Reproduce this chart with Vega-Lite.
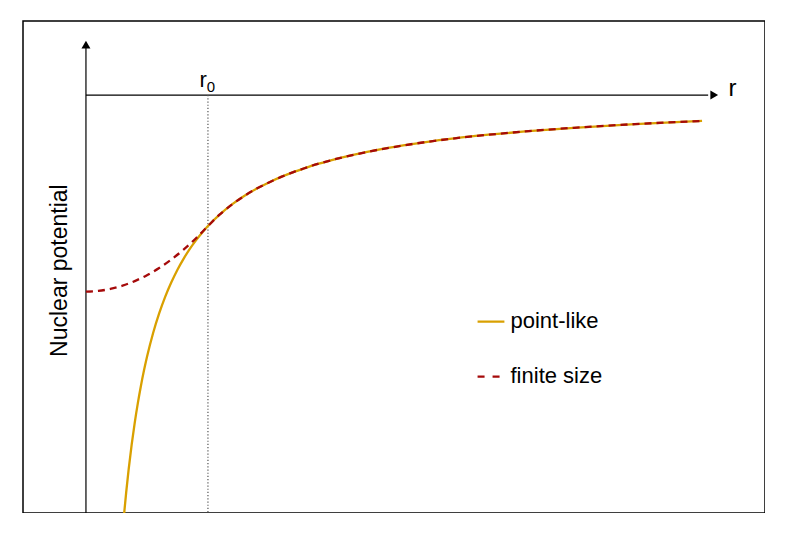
{
  "$schema": "https://vega.github.io/schema/vega-lite/v6.json",
  "width": 742,
  "height": 492,
  "padding": {"left": 23, "top": 21, "right": 0, "bottom": 0},
  "autosize": {"type": "none"},
  "background": "white",
  "config": {
    "view": {"stroke": "black", "strokeWidth": 1.5},
    "font": "Liberation Sans"
  },
  "datasets": {
    "curves": [
      {"r": 0.313, "V": -3.195, "model": "point-like"},
      {"r": 0.33, "V": -3.03, "model": "point-like"},
      {"r": 0.35, "V": -2.857, "model": "point-like"},
      {"r": 0.375, "V": -2.667, "model": "point-like"},
      {"r": 0.4, "V": -2.5, "model": "point-like"},
      {"r": 0.425, "V": -2.353, "model": "point-like"},
      {"r": 0.45, "V": -2.222, "model": "point-like"},
      {"r": 0.475, "V": -2.105, "model": "point-like"},
      {"r": 0.5, "V": -2.0, "model": "point-like"},
      {"r": 0.55, "V": -1.818, "model": "point-like"},
      {"r": 0.6, "V": -1.667, "model": "point-like"},
      {"r": 0.65, "V": -1.538, "model": "point-like"},
      {"r": 0.7, "V": -1.429, "model": "point-like"},
      {"r": 0.75, "V": -1.333, "model": "point-like"},
      {"r": 0.8, "V": -1.25, "model": "point-like"},
      {"r": 0.85, "V": -1.176, "model": "point-like"},
      {"r": 0.9, "V": -1.111, "model": "point-like"},
      {"r": 0.95, "V": -1.053, "model": "point-like"},
      {"r": 1.0, "V": -1.0, "model": "point-like"},
      {"r": 1.1, "V": -0.909, "model": "point-like"},
      {"r": 1.2, "V": -0.833, "model": "point-like"},
      {"r": 1.3, "V": -0.769, "model": "point-like"},
      {"r": 1.4, "V": -0.714, "model": "point-like"},
      {"r": 1.5, "V": -0.667, "model": "point-like"},
      {"r": 1.6, "V": -0.625, "model": "point-like"},
      {"r": 1.7, "V": -0.588, "model": "point-like"},
      {"r": 1.8, "V": -0.556, "model": "point-like"},
      {"r": 1.9, "V": -0.526, "model": "point-like"},
      {"r": 2.0, "V": -0.5, "model": "point-like"},
      {"r": 2.2, "V": -0.455, "model": "point-like"},
      {"r": 2.4, "V": -0.417, "model": "point-like"},
      {"r": 2.6, "V": -0.385, "model": "point-like"},
      {"r": 2.8, "V": -0.357, "model": "point-like"},
      {"r": 3.0, "V": -0.333, "model": "point-like"},
      {"r": 3.3, "V": -0.303, "model": "point-like"},
      {"r": 3.6, "V": -0.278, "model": "point-like"},
      {"r": 4.0, "V": -0.25, "model": "point-like"},
      {"r": 4.5, "V": -0.222, "model": "point-like"},
      {"r": 5.05, "V": -0.198, "model": "point-like"},
      {"r": 0.0, "V": -1.5, "model": "finite size"},
      {"r": 0.1, "V": -1.495, "model": "finite size"},
      {"r": 0.2, "V": -1.48, "model": "finite size"},
      {"r": 0.3, "V": -1.455, "model": "finite size"},
      {"r": 0.4, "V": -1.42, "model": "finite size"},
      {"r": 0.5, "V": -1.375, "model": "finite size"},
      {"r": 0.6, "V": -1.32, "model": "finite size"},
      {"r": 0.7, "V": -1.255, "model": "finite size"},
      {"r": 0.8, "V": -1.18, "model": "finite size"},
      {"r": 0.9, "V": -1.095, "model": "finite size"},
      {"r": 1.0, "V": -1.0, "model": "finite size"},
      {"r": 1.1, "V": -0.909, "model": "finite size"},
      {"r": 1.2, "V": -0.833, "model": "finite size"},
      {"r": 1.3, "V": -0.769, "model": "finite size"},
      {"r": 1.4, "V": -0.714, "model": "finite size"},
      {"r": 1.5, "V": -0.667, "model": "finite size"},
      {"r": 1.6, "V": -0.625, "model": "finite size"},
      {"r": 1.7, "V": -0.588, "model": "finite size"},
      {"r": 1.8, "V": -0.556, "model": "finite size"},
      {"r": 1.9, "V": -0.526, "model": "finite size"},
      {"r": 2.0, "V": -0.5, "model": "finite size"},
      {"r": 2.2, "V": -0.455, "model": "finite size"},
      {"r": 2.4, "V": -0.417, "model": "finite size"},
      {"r": 2.6, "V": -0.385, "model": "finite size"},
      {"r": 2.8, "V": -0.357, "model": "finite size"},
      {"r": 3.0, "V": -0.333, "model": "finite size"},
      {"r": 3.3, "V": -0.303, "model": "finite size"},
      {"r": 3.6, "V": -0.278, "model": "finite size"},
      {"r": 4.0, "V": -0.25, "model": "finite size"},
      {"r": 4.5, "V": -0.222, "model": "finite size"},
      {"r": 5.05, "V": -0.198, "model": "finite size"}
    ]
  },
  "layer": [
    {
      "data": {"values": [
        {"r": 0, "r2": 0, "V": -3.19, "V2": 0.39, "kind": "yaxis"},
        {"r": 0, "r2": 5.1, "V": 0, "V2": 0, "kind": "xaxis"}
      ]},
      "mark": {"type": "rule", "color": "black", "strokeWidth": 1.2},
      "encoding": {
        "x": {"field": "r", "type": "quantitative", "scale": {"domain": [-0.516, 5.566], "nice": false, "zero": false}, "axis": null},
        "x2": {"field": "r2"},
        "y": {"field": "V", "type": "quantitative", "scale": {"domain": [-3.19, 0.565], "nice": false, "zero": false}, "axis": null},
        "y2": {"field": "V2"}
      }
    },
    {
      "data": {"values": [{"r": 1, "V": 0, "V2": -3.19}]},
      "mark": {"type": "rule", "color": "#555555", "strokeWidth": 1.2, "strokeDash": [1.2, 2]},
      "encoding": {
        "x": {"field": "r", "type": "quantitative"},
        "y": {"field": "V", "type": "quantitative"},
        "y2": {"field": "V2"}
      }
    },
    {
      "data": {"values": [
        {"r": 0, "V": 0.385, "shape": "triangle-up"},
        {"r": 5.15, "V": 0, "shape": "triangle-right"}
      ]},
      "mark": {"type": "point", "filled": true, "color": "black", "size": 80, "opacity": 1},
      "encoding": {
        "x": {"field": "r", "type": "quantitative"},
        "y": {"field": "V", "type": "quantitative"},
        "shape": {"field": "shape", "type": "nominal", "scale": {"domain": ["triangle-up", "triangle-right"], "range": ["triangle-up", "triangle-right"]}, "legend": null}
      }
    },
    {
      "data": {"name": "curves"},
      "transform": [{"filter": "datum.model === 'point-like'"}],
      "mark": {"type": "line", "strokeWidth": 2.3, "clip": true, "interpolate": "monotone"},
      "encoding": {
        "x": {"field": "r", "type": "quantitative"},
        "y": {"field": "V", "type": "quantitative"},
        "color": {"field": "model", "type": "nominal",
          "scale": {"domain": ["point-like", "finite size"], "range": ["#D9A000", "#A50A0A"]},
          "legend": null},
        "order": {"field": "r", "type": "quantitative"}
      }
    },
    {
      "data": {"name": "curves"},
      "transform": [{"filter": "datum.model === 'finite size'"}],
      "mark": {"type": "line", "strokeWidth": 2.3, "strokeDash": [7, 5], "clip": true, "interpolate": "monotone"},
      "encoding": {
        "x": {"field": "r", "type": "quantitative"},
        "y": {"field": "V", "type": "quantitative"},
        "color": {"field": "model", "type": "nominal", "legend": null},
        "order": {"field": "r", "type": "quantitative"}
      }
    },
    {
      "data": {"values": [
        {"model": "point-like", "r": 3.21, "r2": 3.43, "V": -1.729},
        {"model": "finite size", "r": 3.21, "r2": 3.393, "V": -2.149}
      ]},
      "mark": {"type": "rule", "strokeWidth": 2.3},
      "encoding": {
        "x": {"field": "r", "type": "quantitative"},
        "x2": {"field": "r2"},
        "y": {"field": "V", "type": "quantitative"},
        "color": {"field": "model", "type": "nominal", "legend": null},
        "strokeDash": {"field": "model", "type": "nominal", "scale": {"domain": ["point-like", "finite size"], "range": [[1, 0], [7, 8]]}, "legend": null}
      }
    },
    {
      "data": {"values": [
        {"label": "point-like", "r": 3.48, "V": -1.729},
        {"label": "finite size", "r": 3.48, "V": -2.149}
      ]},
      "mark": {"type": "text", "align": "left", "baseline": "middle", "fontSize": 22, "color": "black", "font": "Liberation Sans", "dy": -1},
      "encoding": {
        "x": {"field": "r", "type": "quantitative"},
        "y": {"field": "V", "type": "quantitative"},
        "text": {"field": "label"}
      }
    },
    {
      "data": {"values": [{"label": "r", "r": 5.30, "V": -0.008}]},
      "mark": {"type": "text", "align": "center", "baseline": "alphabetic", "fontSize": 24, "color": "black", "font": "Liberation Sans"},
      "encoding": {
        "x": {"field": "r", "type": "quantitative"},
        "y": {"field": "V", "type": "quantitative"},
        "text": {"field": "label"}
      }
    },
    {
      "data": {"values": [{"label": "r", "r": 0.96, "V": 0.061}]},
      "mark": {"type": "text", "align": "center", "baseline": "alphabetic", "fontSize": 22, "color": "black", "font": "Liberation Sans"},
      "encoding": {
        "x": {"field": "r", "type": "quantitative"},
        "y": {"field": "V", "type": "quantitative"},
        "text": {"field": "label"}
      }
    },
    {
      "data": {"values": [{"label": "0", "r": 0.99, "V": 0.023}]},
      "mark": {"type": "text", "align": "left", "baseline": "alphabetic", "fontSize": 15, "color": "black", "font": "Liberation Sans"},
      "encoding": {
        "x": {"field": "r", "type": "quantitative"},
        "y": {"field": "V", "type": "quantitative"},
        "text": {"field": "label"}
      }
    },
    {
      "data": {"values": [{"label": "Nuclear potential", "r": -0.215, "V": -1.34}]},
      "mark": {"type": "text", "align": "center", "baseline": "middle", "angle": 270, "fontSize": 23, "color": "black", "font": "Liberation Sans"},
      "encoding": {
        "x": {"field": "r", "type": "quantitative"},
        "y": {"field": "V", "type": "quantitative"},
        "text": {"field": "label"}
      }
    }
  ]
}
